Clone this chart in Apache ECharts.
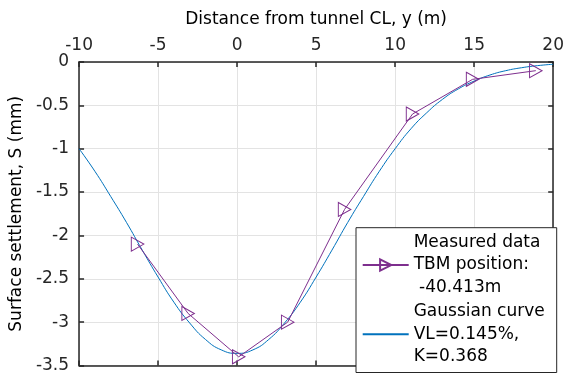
<!DOCTYPE html>
<html>
<head>
<meta charset="utf-8">
<script src="https://cdn.jsdelivr.net/npm/echarts@6/dist/echarts.min.js"></script>
<style>
  html, body { margin: 0; padding: 0; background: #fff; }
  #main { width: 567px; height: 374px; }
</style>
</head>
<body>
<div id="main"></div>
<script>
// measured settlement points
const measuredY = [-6.3, -3.1, 0.1, 3.2, 6.8, 11.1, 14.9, 18.9];
const measuredS = [-2.10, -2.90, -3.40, -3.00, -1.70, -0.60, -0.20, -0.10];

// gaussian fit at each metre
const gaussY = [-10, -9, -8, -7, -6, -5, -4, -3, -2, -1, 0, 1, 2, 3, 4, 5, 6, 7, 8, 9, 10,
  11, 12, 13, 14, 15, 16, 17, 18, 19, 20];
const gaussS = [-1.00, -1.26, -1.55, -1.85, -2.17, -2.48, -2.77, -3.01, -3.20, -3.32, -3.36,
  -3.32, -3.20, -3.01, -2.77, -2.48, -2.17, -1.85, -1.55, -1.26, -1.00,
  -0.77, -0.585, -0.43, -0.31, -0.22, -0.15, -0.10, -0.066, -0.042, -0.026];

const xTicks = { min: -10, max: 20, interval: 5 };
const yTicks = { min: -3.5, max: 0, interval: 0.5 };

const measuredName = "Measured data\nTBM position:\n -40.413m";
const gaussName = "Gaussian curve\nVL=0.145%,\nK=0.368";

const FONT = "DejaVu Sans";
const AXIS_COLOR = "#262626";

const myChart = echarts.init(document.getElementById("main"), null, { renderer: "canvas" });

const baseAxis = {
  type: "value",
  axisLine: { show: true, onZero: false, lineStyle: { color: AXIS_COLOR, width: 1.5 } },
  axisTick: { show: true, inside: true, length: 5, lineStyle: { color: AXIS_COLOR, width: 1.5 } },
  splitLine: { show: false }
};

const option = {
  animation: false,
  backgroundColor: "#fff",
  grid: { left: 76, right: 10.5, top: 62, bottom: 1.5, containLabel: false },
  xAxis: [
    Object.assign({}, baseAxis, xTicks, {
      position: "top",
      name: "Distance from tunnel CL, y (m)",
      nameLocation: "middle",
      nameGap: 34,
      nameTextStyle: { fontFamily: FONT, fontSize: 17, color: "#000" },
      axisLabel: { margin: 8, fontFamily: FONT, fontSize: 17, color: AXIS_COLOR },
      splitLine: { show: true, lineStyle: { color: "#e3e3e3", width: 1 } }
    }),
    Object.assign({}, baseAxis, xTicks, {
      position: "bottom",
      axisLabel: { show: false }
    })
  ],
  yAxis: [
    Object.assign({}, baseAxis, yTicks, {
      position: "left",
      name: "Surface settlement, S (mm)",
      nameLocation: "middle",
      nameGap: 53,
      nameTextStyle: { fontFamily: FONT, fontSize: 17, color: "#000" },
      axisLabel: { margin: 10, fontFamily: FONT, fontSize: 17, color: AXIS_COLOR },
      splitLine: { show: true, lineStyle: { color: "#e3e3e3", width: 1 } }
    }),
    Object.assign({}, baseAxis, yTicks, {
      position: "right",
      axisLabel: { show: false }
    })
  ],
  legend: {
    orient: "vertical",
    left: 356,
    top: 228,
    padding: [3, 0, 0, 5.7],
    itemGap: 1,
    itemWidth: 46,
    itemHeight: 14,
    selectedMode: false,
    textStyle: { fontFamily: FONT, fontSize: 17, lineHeight: 22.7, color: "#000" },
    data: [
      { name: measuredName },
      { name: gaussName, itemStyle: { color: "rgba(0,0,0,0)", borderColor: "rgba(0,0,0,0)", borderWidth: 0 } }
    ]
  },
  graphic: {
    elements: [{
      type: "rect",
      z: 3,
      shape: { x: 356, y: 227.7, width: 200.7, height: 144.8 },
      style: { fill: "#fff", stroke: "#262626", lineWidth: 1 }
    }]
  },
  series: [
    {
      name: measuredName,
      type: "line",
      data: measuredY.map((y, i) => [y, measuredS[i]]),
      symbol: "path://M0,0L1,0.5L0,1Z",
      symbolSize: [12.5, 14],
      symbolKeepAspect: false,
      lineStyle: { color: "#7E2F8E", width: 1 },
      itemStyle: { color: "rgba(0,0,0,0)", borderColor: "#7E2F8E", borderWidth: 1 },
      z: 2
    },
    {
      name: gaussName,
      type: "line",
      data: gaussY.map((y, i) => [y, gaussS[i]]),
      symbol: "none",
      smooth: true,
      lineStyle: { color: "#0072BD", width: 1 },
      itemStyle: { color: "#0072BD" },
      z: 1
    }
  ]
};

option && myChart.setOption(option);
</script>
</body>
</html>
